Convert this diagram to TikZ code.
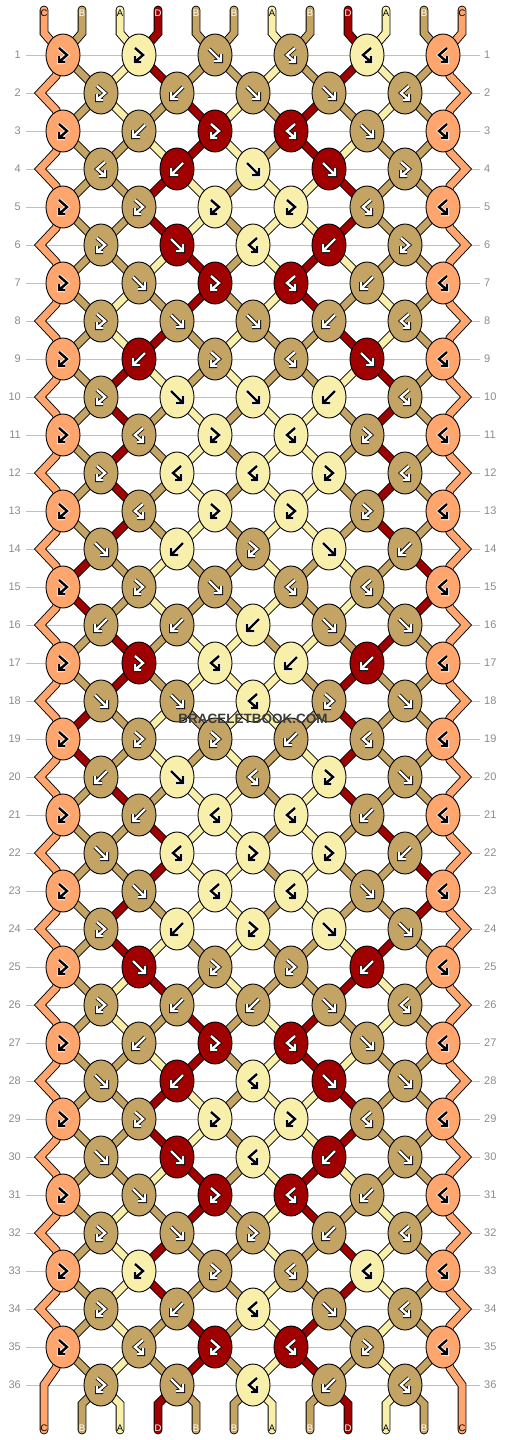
\documentclass[tikz,border=0pt]{standalone}
\usepackage{fontspec}
\setmainfont{Liberation Sans}
\usetikzlibrary{shapes.geometric}

\definecolor{colA}{HTML}{F8F0AA}
\definecolor{colB}{HTML}{C4A465}
\definecolor{colC}{HTML}{FFA66E}
\definecolor{colD}{HTML}{A00000}
\colorlet{peninA}{black}\colorlet{penoutA}{white}
\colorlet{peninB}{white}\colorlet{penoutB}{black}
\colorlet{peninC}{black}\colorlet{penoutC}{white}
\colorlet{peninD}{white}\colorlet{penoutD}{black}
\definecolor{rowgray}{HTML}{C0C0C0}
\definecolor{numgray}{HTML}{8C8C8C}
\definecolor{markgray}{HTML}{3C3C3C}

\pgfdeclarelayer{grid}
\pgfdeclarelayer{strands}
\pgfsetlayers{grid,strands,main}

% thread colours before rows 1..36, last line after row 36
\def\strandrows{%
{C,B,A,D,B,B,A,B,D,A,B,C},%
{C,B,A,D,B,B,A,B,D,A,B,C},%
{C,B,A,B,D,A,B,D,B,A,B,C},%
{C,B,B,A,D,A,B,D,A,B,B,C},%
{C,B,B,D,A,B,A,A,D,B,B,C},%
{C,B,B,D,A,B,A,A,D,B,B,C},%
{C,B,B,A,D,B,A,D,A,B,B,C},%
{C,B,A,B,D,B,A,D,B,A,B,C},%
{C,B,A,D,B,A,B,B,D,A,B,C},%
{C,B,D,A,B,A,B,B,A,D,B,C},%
{C,B,D,B,A,B,A,A,B,D,B,C},%
{C,B,D,B,A,B,A,A,B,D,B,C},%
{C,B,D,B,A,B,A,A,B,D,B,C},%
{C,B,D,B,A,B,A,A,B,D,B,C},%
{C,D,B,A,B,B,A,B,A,B,D,C},%
{C,D,B,A,B,B,A,B,A,B,D,C},%
{C,B,D,B,A,A,B,A,B,D,B,C},%
{C,B,D,B,A,A,A,B,D,B,B,C},%
{C,D,B,A,B,A,A,B,D,B,B,C},%
{C,D,B,A,B,A,B,A,D,B,B,C},%
{C,B,D,B,A,A,B,A,D,B,B,C},%
{C,B,B,D,A,A,B,A,B,D,B,C},%
{C,B,B,D,A,A,B,A,B,B,D,C},%
{C,B,D,B,A,A,B,A,B,B,D,C},%
{C,B,D,A,B,A,B,B,A,D,B,C},%
{C,B,A,D,B,A,B,B,D,A,B,C},%
{C,B,A,B,D,B,A,D,B,A,B,C},%
{C,B,B,A,D,B,A,D,A,B,B,C},%
{C,B,B,D,A,B,A,A,D,B,B,C},%
{C,B,B,D,A,B,A,A,D,B,B,C},%
{C,B,B,A,D,B,A,D,A,B,B,C},%
{C,B,A,B,D,B,A,D,B,A,B,C},%
{C,B,A,D,B,B,A,B,D,A,B,C},%
{C,B,A,D,B,B,A,B,D,A,B,C},%
{C,B,A,B,D,B,A,D,B,A,B,C},%
{C,B,A,B,D,B,A,D,B,A,B,C},%
{C,B,A,D,B,B,A,B,D,A,B,C}%
}

% knot types of rows 1..36
\def\knotrows{%
{FB,FB,F,BF,BF,BF},%
{FB,B,F,F,BF},%
{FB,B,FB,BF,F,BF},%
{BF,B,F,F,FB},%
{FB,FB,FB,FB,BF,BF},%
{FB,F,BF,B,FB},%
{FB,F,FB,BF,B,BF},%
{FB,F,F,B,BF},%
{FB,B,FB,BF,F,BF},%
{FB,F,F,B,BF},%
{FB,BF,FB,BF,FB,BF},%
{FB,BF,BF,FB,BF},%
{FB,BF,FB,FB,FB,BF},%
{F,B,FB,F,B},%
{FB,FB,F,BF,BF,BF},%
{B,B,B,F,F},%
{FB,FB,BF,B,B,BF},%
{F,F,BF,FB,F},%
{FB,FB,FB,B,BF,BF},%
{B,F,BF,FB,F},%
{FB,B,BF,BF,B,BF},%
{F,BF,FB,FB,B},%
{FB,F,BF,BF,F,BF},%
{FB,B,FB,F,F},%
{FB,F,FB,FB,B,BF},%
{FB,B,B,F,BF},%
{FB,B,FB,BF,F,BF},%
{F,B,BF,F,F},%
{FB,FB,FB,FB,BF,BF},%
{F,F,BF,B,F},%
{FB,F,FB,BF,B,BF},%
{FB,F,FB,B,BF},%
{FB,FB,FB,BF,BF,BF},%
{FB,B,BF,F,BF},%
{FB,BF,FB,BF,FB,BF},%
{FB,F,BF,B,BF}%
}

\def\sideF{0}\def\sideFB{0}\def\sideB{1}\def\sideBF{1}

\foreach \stline [count=\rw] in \strandrows {
  \foreach \cl [count=\ps from 0] in \stline {
    \expandafter\xdef\csname s\rw-\ps\endcsname{\cl}
  }
}

\newcommand\glyphF[1]{\draw[glyph,#1] (-6,-6) -- (6,6) (6,-1) -- (6,6) -- (-1,6);}
\newcommand\glyphB[1]{\draw[glyph,#1] (6,-6) -- (-6,6) (-6,-1) -- (-6,6) -- (1,6);}
\newcommand\glyphFB[1]{\draw[glyph,#1] (-4,-7) -- (4,0) -- (-4,7) (-4,1) -- (-4,7) -- (2,7);}
\newcommand\glyphBF[1]{\draw[glyph,#1] (4,-7) -- (-4,0) -- (4,7) (4,1) -- (4,7) -- (-2,7);}

\begin{document}
\begin{tikzpicture}[x=1pt, y=-1pt,
  knot/.style={ellipse, draw=black, line width=0.9pt, minimum width=34pt, minimum height=42pt, inner sep=0pt},
  strand/.style={draw=black, line width=0.9pt, double=#1, double distance=7pt},
  endstrand/.style={strand=#1, line cap=round},
  glyph/.style={line width=0.8pt, double distance=2.4pt, line join=miter},
  rowline/.style={draw=rowgray, line width=1pt},
  rownum/.style={text=numgray, font=\fontsize{11}{11}\selectfont, inner sep=0pt},
  endlabel/.style={font=\fontsize{9.5}{9.5}\selectfont, inner sep=0pt}]
\useasboundingbox (0,0) rectangle (506,1440);

\begin{pgfonlayer}{grid}
\fill[white] (0,0) rectangle (506,1440);
\foreach \rw in {1,...,36} {
  \pgfmathsetmacro\ry{55+38*(\rw-1)}
  \draw[rowline] (26,\ry) -- (480,\ry);
  \node[rownum, anchor=east] (NL\rw) at (21,\ry) {\rw};
  \node[rownum, anchor=west] (NR\rw) at (484,\ry) {\rw};
}
\end{pgfonlayer}

% knots
\foreach \types [count=\rw] in \knotrows {
  \foreach \kt [count=\kn from 0] in \types {
    \pgfmathtruncatemacro\pl{mod(\rw,2)==1 ? 2*\kn : 2*\kn+1}
    \pgfmathtruncatemacro\pk{\pl+\csname side\kt\endcsname}
    \edef\kc{\csname s\rw-\pk\endcsname}
    \pgfmathsetmacro\kx{mod(\rw,2)==1 ? 63+76*\kn : 101+76*\kn}
    \pgfmathsetmacro\ky{55+38*(\rw-1)}
    \node[knot, fill=col\kc] (K-\rw-\kn) at (\kx,\ky) {};
    \csname glyph\kt\endcsname{shift={(K-\rw-\kn.center)}, draw=penout\kc, double=penin\kc}
  }
}

% thread ends and their letters
\foreach \ps in {0,...,11} {
  \pgfmathsetmacro\sx{44+38*\ps}
  \coordinate (T\ps) at (\sx,10);
  \coordinate (B\ps) at (\sx,1430);
  \edef\ct{\csname s1-\ps\endcsname}
  \edef\cb{\csname s37-\ps\endcsname}
  \node[endlabel, text=penin\ct] (LT\ps) at (\sx,13) {\ct};
  \node[endlabel, text=penin\cb] (LB\ps) at (\sx,1428) {\cb};
}

\begin{pgfonlayer}{strands}
\foreach \ps in {1,...,10} {
  \pgfmathtruncatemacro\ka{int(\ps/2)}
  \pgfmathtruncatemacro\kb{int((\ps-1)/2)}
  \edef\ct{\csname s1-\ps\endcsname}
  \edef\cb{\csname s37-\ps\endcsname}
  \draw[endstrand=col\ct] (T\ps) -- ++(0,23) -- (K-1-\ka.center);
  \draw[endstrand=col\cb] (B\ps) -- ++(0,-26) -- (K-36-\kb.center);
}
\foreach \rw in {1,...,35} {
  \pgfmathtruncatemacro\rn{\rw+1}
  \foreach \ps in {1,...,10} {
    \pgfmathtruncatemacro\ka{mod(\rw,2)==1 ? int(\ps/2) : int((\ps-1)/2)}
    \pgfmathtruncatemacro\kb{mod(\rw,2)==1 ? int((\ps-1)/2) : int(\ps/2)}
    \edef\sc{\csname s\rn-\ps\endcsname}
    \draw[strand=col\sc] (K-\rw-\ka.center) -- (K-\rn-\kb.center);
  }
}
% edge threads
\draw[endstrand=colC] (T0) -- ++(0,23) -- (K-1-0.center)
  \foreach \rr in {3,5,...,35} { -- ++(-7,21) -- ++(-16,17) -- ++(16,17) -- (K-\rr-0.center) }
  -- ++(-7,21) -- ++(-12,17) -- (B0);
\draw[endstrand=colC] (T11) -- ++(0,23) -- (K-1-5.center)
  \foreach \rr in {3,5,...,35} { -- ++(7,21) -- ++(16,17) -- ++(-16,17) -- (K-\rr-5.center) }
  -- ++(7,21) -- ++(12,17) -- (B11);
\end{pgfonlayer}

\node[font=\bfseries\fontsize{13.5}{13.5}\selectfont, text=markgray] (mark) at (253,719) {BRACELETBOOK.COM};
\end{tikzpicture}
\end{document}
